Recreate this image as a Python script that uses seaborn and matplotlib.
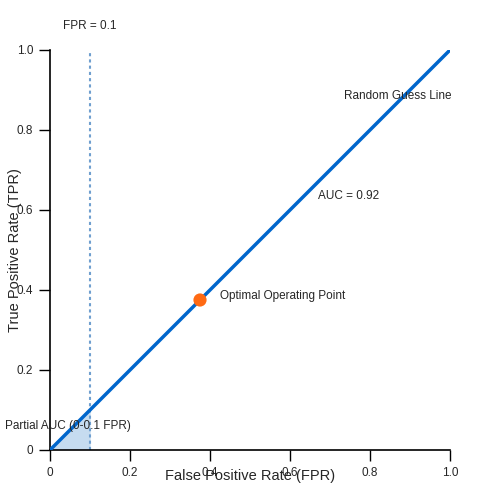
import matplotlib
matplotlib.use("Agg")
import matplotlib.pyplot as plt
import seaborn as sns

fpr = [0.0, 1.0]
tpr = [0.0, 1.0]
opt_x = [0.375]
opt_y = [0.375]
pfpr = [0.0, 0.1, 0.1]
ptpr = [0.0, 0.1, 0.0]
ticks = [0, 0.2, 0.4, 0.6, 0.8, 1.0]
tick_labels = ["0", "0.2", "0.4", "0.6", "0.8", "1.0"]

sns.set_style("white")
plt.rcParams['font.family'] = ['Liberation Sans', 'DejaVu Sans']

fig = plt.figure(figsize=(5, 5), dpi=100)
ax = fig.add_axes([0.1, 0.1, 0.8, 0.8])

ax.fill(pfpr, ptpr, color="#c6dcf0", zorder=1)
ax.axvline(0.1, color="#6f9fcf", linestyle=(0, (1.5, 1.5)), linewidth=1.5, zorder=2)
sns.lineplot(x=fpr, y=tpr, ax=ax, color="#0066cc", linewidth=2.5, zorder=3)
sns.scatterplot(x=opt_x, y=opt_y, ax=ax, color="#ff6a13", s=90, edgecolor="none", zorder=4)

ax.set_xlim(0, 1)
ax.set_ylim(0, 1)
ax.set_xticks(ticks)
ax.set_xticklabels(tick_labels, fontsize=8.5)
ax.set_yticks(ticks)
ax.set_yticklabels(tick_labels, fontsize=8.5)
ax.tick_params(axis='both', length=8, width=1, color="black", direction='out', pad=4,
               left=True, bottom=True)
for s in ["top", "right"]:
    ax.spines[s].set_visible(False)
for s in ["left", "bottom"]:
    ax.spines[s].set_color("black")
    ax.spines[s].set_linewidth(1.2)

fs = 8.5
ax.text(0.0325, 1.06, "FPR = 0.1", fontsize=fs, va="center", clip_on=False)
ax.text(0.735, 0.885, "Random Guess Line", fontsize=fs, va="center", clip_on=False)
ax.text(0.67, 0.635, "AUC = 0.92", fontsize=fs, va="center")
ax.text(0.425, 0.385, "Optimal Operating Point", fontsize=fs, va="center")
ax.text(-0.1125, 0.06, "Partial AUC (0-0.1 FPR)", fontsize=fs, va="center", clip_on=False)

fig.text(0.5, 0.048, "False Positive Rate (FPR)", fontsize=10.5, ha="center", va="center")
fig.text(0.03, 0.5, "True Positive Rate (TPR)", fontsize=10.5, ha="center", va="center", rotation=90)

fig.savefig("out.png", dpi=100)
